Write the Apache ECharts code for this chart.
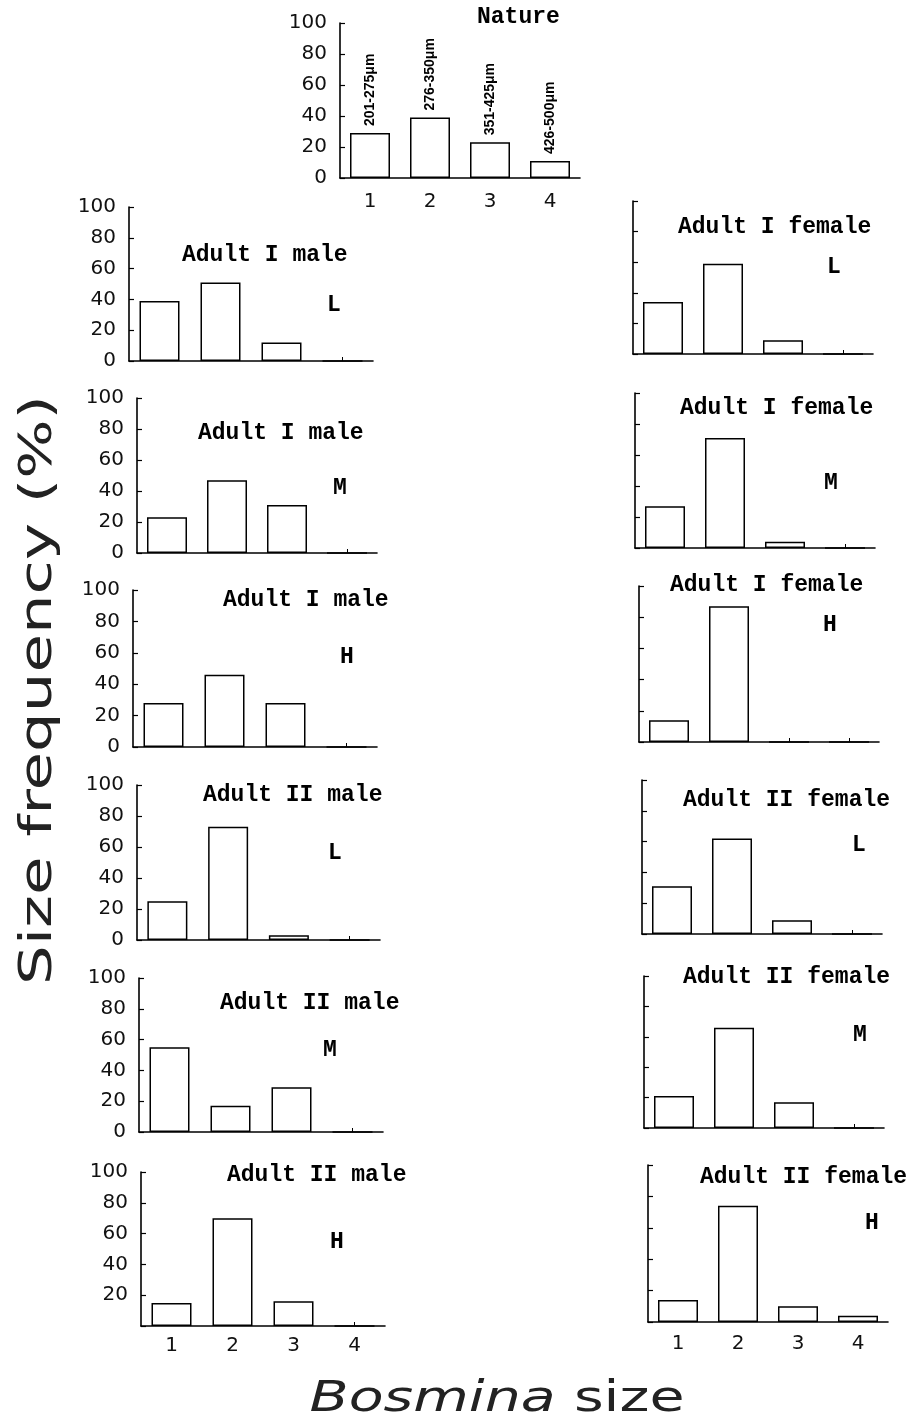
<!DOCTYPE html>
<html><head><meta charset="utf-8">
<script src="https://cdn.jsdelivr.net/npm/echarts/dist/echarts.min.js"></script>
<style>html,body{margin:0;padding:0;background:#fff}#c{width:907px;height:1423px}</style>
</head><body><div id="c"></div><script>
// ---- data ----
const categories = ['1', '2', '3', '4'];
const yTickValues = [0, 20, 40, 60, 80, 100];
const natureValues = [29, 39, 23, 11];
const natureRanges = ['201-275μm', '276-350μm', '351-425μm', '426-500μm'];
const maleIL = [39, 51, 12, 0];
const maleIM = [23, 47, 31, 0];
const maleIH = [28, 46, 28, 0];
const maleIIL = [25, 73, 3, 0];
const maleIIM = [55, 17, 29, 0];
const maleIIH = [15, 70, 16, 0];
const femaleIL = [34, 59, 9, 0];
const femaleIM = [27, 71, 4, 0];
const femaleIH = [14, 87, 0, 0];
const femaleIIL = [31, 62, 9, 0];
const femaleIIM = [21, 66, 17, 0];
const femaleIIH = [14, 74, 10, 4];
const yAxisTitle = 'Size frequency (%)';
const xAxisTitleItalic = 'Bosmina';
const xAxisTitleRest = ' size';

// ---- layout ----
const panels = [
  {data: natureValues, title: 'Nature', tag: '', g: [340, 23, 240, 155], t: [477, 17], yl: true, xl: 14, rot: natureRanges},
  {data: maleIL, title: 'Adult I male', tag: 'L', g: [129, 207, 244, 154], t: [182, 255], k: [327, 305], yl: true},
  {data: maleIM, title: 'Adult I male', tag: 'M', g: [137, 398, 240, 155], t: [198, 433], k: [333, 488], yl: true},
  {data: maleIH, title: 'Adult I male', tag: 'H', g: [133, 590, 244, 157], t: [223, 600], k: [340, 657], yl: true},
  {data: maleIIL, title: 'Adult II male', tag: 'L', g: [137, 785, 243, 155], t: [203, 795], k: [328, 853], yl: true},
  {data: maleIIM, title: 'Adult II male', tag: 'M', g: [139, 978, 244, 154], t: [220, 1003], k: [323, 1050], yl: true},
  {data: maleIIH, title: 'Adult II male', tag: 'H', g: [141, 1172, 244, 154], t: [227, 1175], k: [330, 1242], yl: true, noZero: true, xl: 10},
  {data: femaleIL, title: 'Adult I female', tag: 'L', g: [633, 201, 240, 153], t: [678, 227], k: [827, 267]},
  {data: femaleIM, title: 'Adult I female', tag: 'M', g: [635, 393, 240, 155], t: [680, 408], k: [824, 483]},
  {data: femaleIH, title: 'Adult I female', tag: 'H', g: [639, 586, 240, 156], t: [670, 585], k: [823, 625]},
  {data: femaleIIL, title: 'Adult II female', tag: 'L', g: [642, 780, 240, 154], t: [683, 800], k: [852, 845]},
  {data: femaleIIM, title: 'Adult II female', tag: 'M', g: [644, 976, 240, 152], t: [683, 977], k: [853, 1035]},
  {data: femaleIIH, title: 'Adult II female', tag: 'H', g: [648, 1165, 240, 157], t: [700, 1177], k: [865, 1223], xl: 12}
];

const lineStyle = {color: '#000', width: 1.6};
const tickFont = '"DejaVu Sans", sans-serif';
const titleFont = '"Liberation Mono", "Courier New", monospace';

const grid = [], xAxis = [], yAxis = [], series = [], graphic = [];
panels.forEach((p, i) => {
  grid.push({left: p.g[0], top: p.g[1], width: p.g[2], height: p.g[3], containLabel: false});
  xAxis.push({
    type: 'category', gridIndex: i, data: categories, boundaryGap: true,
    axisLine: {show: true, lineStyle: lineStyle},
    axisTick: {show: true, inside: true, alignWithLabel: true, length: 4, lineStyle: {color: '#000', width: 1}},
    axisLabel: {show: !!p.xl, margin: p.xl || 8, fontFamily: tickFont, fontSize: 20, color: '#111'},
    splitLine: {show: false}
  });
  yAxis.push({
    type: 'value', gridIndex: i, min: 0, max: 100, interval: 20,
    axisLine: {show: true, lineStyle: lineStyle},
    axisTick: {show: true, inside: true, length: 5, lineStyle: {color: '#000', width: 1.2}},
    axisLabel: {show: !!p.yl, margin: 13, fontFamily: tickFont, fontSize: 20, color: '#111',
      formatter: v => (p.noZero && v === 0) ? '' : (yTickValues.indexOf(v) >= 0 ? String(v) : '')},
    splitLine: {show: false}
  });
  const s = {
    type: 'bar', xAxisIndex: i, yAxisIndex: i, data: p.data, barWidth: 40,
    itemStyle: {color: '#fff', borderColor: '#000', borderWidth: 1.5},
    silent: true
  };
  if (p.rot) {
    s.label = {
      show: true, position: 'top', rotate: 90, distance: 7, align: 'left', verticalAlign: 'middle',
      fontFamily: '"Liberation Sans", Arial, sans-serif', fontWeight: 'bold', fontSize: 14, color: '#000',
      formatter: prm => p.rot[prm.dataIndex]
    };
  }
  series.push(s);
  graphic.push({type: 'text', x: p.t[0], y: p.t[1], style: {text: p.title, font: 'bold 23px ' + titleFont, fill: '#000', textAlign: 'left', textVerticalAlign: 'middle'}});
  if (p.tag) {
    graphic.push({type: 'text', x: p.k[0], y: p.k[1], style: {text: p.tag, font: 'bold 23px ' + titleFont, fill: '#000', textAlign: 'left', textVerticalAlign: 'middle'}});
  }
});

// stretched axis titles
const mctx = document.createElement('canvas').getContext('2d');
mctx.font = '44px "DejaVu Sans"';
const yw = mctx.measureText(yAxisTitle).width;
graphic.push({type: 'text', x: 40, y: 690, rotation: Math.PI / 2, scaleX: 590 / yw, scaleY: 1,
  style: {text: yAxisTitle, font: '44px "DejaVu Sans"', fill: '#222', textAlign: 'center', textVerticalAlign: 'middle'}});
mctx.font = 'italic 42px "DejaVu Sans"';
let xw = mctx.measureText(xAxisTitleItalic).width;
mctx.font = '42px "DejaVu Sans"';
xw += mctx.measureText(xAxisTitleRest).width;
graphic.push({type: 'text', x: 497, y: 1400, scaleX: 375 / xw, scaleY: 1,
  style: {text: '{i|' + xAxisTitleItalic + '}{n|' + xAxisTitleRest + '}', textAlign: 'center', textVerticalAlign: 'middle',
    rich: {i: {font: 'italic 42px "DejaVu Sans"', fill: '#222'}, n: {font: '42px "DejaVu Sans"', fill: '#222'}}}});

const chart = echarts.init(document.getElementById('c'), null, {renderer: 'canvas'});
chart.setOption({animation: false, backgroundColor: '#fff', grid, xAxis, yAxis, series, graphic});
</script></body></html>
